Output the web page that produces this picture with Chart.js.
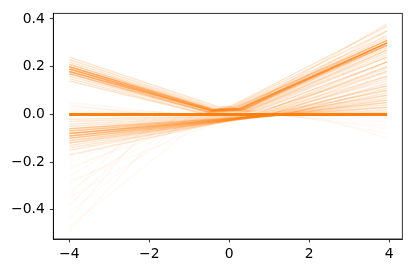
<!DOCTYPE html>
<html>
<head>
<meta charset="utf-8">
<script src="https://cdn.jsdelivr.net/npm/chart.js@4/dist/chart.umd.min.js"></script>
<style>
  html, body { margin: 0; padding: 0; background: #fff; }
  #wrap { width: 411px; height: 274px; }
</style>
</head>
<body>
<div id="wrap"><canvas id="chart" width="411" height="274"></canvas></div>
<script>
// ─── DATA ────────────────────────────────────────────────
const xStart = -4;
const xEnd = 3.95;
const xTicks = [-4, -2, 0, 2, 4];
const xTickLabels = ['−4', '−2', '0', '2', '4'];
const yTicks = [-0.4, -0.2, 0, 0.2, 0.4];
const yTickLabels = ['−0.4', '−0.2', '0.0', '0.2', '0.4'];

// V shaped: [y at -4, bottom x, bottom y, rise x, rise y, y at end]
const vLines = [
  [0.19, -0.45, 0.015, 0.25, 0.025, 0.30],
  [0.18, -0.50, 0.010, 0.30, 0.020, 0.29],
  [0.20, -0.40, 0.020, 0.20, 0.030, 0.31],
  [0.17, -0.55, 0.010, 0.35, 0.020, 0.28],
  [0.21, -0.35, 0.020, 0.15, 0.030, 0.31],
  [0.19, -0.45, 0.015, 0.40, 0.025, 0.30],
  [0.18, -0.40, 0.015, 0.30, 0.020, 0.30],
  [0.20, -0.50, 0.020, 0.25, 0.025, 0.29],
  [0.16, -0.60, 0.010, 0.45, 0.020, 0.27],
  [0.22, -0.30, 0.020, 0.10, 0.030, 0.33],
  [0.19, -0.45, 0.015, 0.30, 0.025, 0.30],
  [0.17, -0.50, 0.010, 0.50, 0.020, 0.26],
  [0.20, -0.40, 0.020, 0.20, 0.025, 0.31],
  [0.18, -0.45, 0.015, 0.35, 0.020, 0.30],
  [0.15, -0.65, 0.005, 0.60, 0.015, 0.24],
  [0.23, -0.30, 0.025, 0.10, 0.035, 0.35],
  [0.19, -0.40, 0.015, 0.25, 0.025, 0.30],
  [0.21, -0.40, 0.020, 0.20, 0.030, 0.32],
  [0.18, -0.50, 0.015, 0.40, 0.020, 0.29],
  [0.17, -0.55, 0.010, 0.30, 0.020, 0.30],
  [0.20, -0.45, 0.020, 0.30, 0.025, 0.30],
  [0.24, -0.25, 0.030, 0.05, 0.035, 0.37],
  [0.14, -0.70, 0.005, 0.70, 0.015, 0.22],
  [0.19, -0.45, 0.015, 0.25, 0.020, 0.31],
  [0.18, -0.45, 0.015, 0.30, 0.025, 0.29],
  [0.20, -0.40, 0.020, 0.25, 0.025, 0.30]
];

// lower band: [y at -4, x where it reaches 0, y at end]
const lowLines = [
  [-0.08, 1.3, 0], [-0.09, 1.2, 0.05], [-0.07, 1.4, 0], [-0.10, 1.1, 0.08],
  [-0.06, 1.5, 0], [-0.11, 1.0, 0.12], [-0.08, 1.3, 0.03], [-0.09, 1.4, 0],
  [-0.05, 1.6, 0], [-0.12, 1.0, 0.15], [-0.07, 1.2, 0.06], [-0.10, 1.3, 0],
  [-0.13, 0.9, 0.18], [-0.08, 1.5, 0.02], [-0.06, 1.3, 0.04], [-0.09, 1.1, 0.10],
  [-0.15, 0.8, 0.20], [-0.04, 1.7, 0], [-0.11, 1.2, 0.07], [-0.07, 1.4, 0.01],
  [-0.17, 0.7, 0.22], [-0.03, 1.8, 0], [-0.09, 1.3, 0.09], [-0.08, 1.2, 0.13],
  [-0.10, 1.4, 0.03], [-0.14, 1.0, 0.16], [-0.02, 1.9, 0], [-0.06, 1.4, 0.11],
  [-0.12, 1.1, 0], [-0.08, 1.3, 0.05]
];

// flat then rising: [kink x, y at end]
const fanLines = [
  [0.3, 0.25], [0.6, 0.20], [0.8, 0.14], [0.2, 0.35], [1.0, 0.12],
  [0.5, 0.18], [0.4, 0.22], [1.2, 0.08], [0.7, 0.16], [0.1, 0.38],
  [0.9, 0.10], [0.3, 0.27], [1.5, 0.06], [0.6, 0.19], [0.2, 0.24]
];

// faint steep ones from below: [y at -4, x where it reaches 0]
const steepLines = [
  [-0.20, -1.0], [-0.23, -0.8], [-0.26, -1.4], [-0.29, -0.6], [-0.32, -1.2],
  [-0.35, -0.4], [-0.38, -1.6], [-0.41, -0.9], [-0.44, -1.8], [-0.47, -0.5],
  [-0.49, -1.3], [-0.22, -0.2], [-0.28, 0.2], [-0.34, -2.0]
];

// faint ones just above zero on the left: [y at -4, x where it reaches 0]
const highLeftLines = [[0.02, -1.5], [0.04, -2.0], [0.03, -0.8], [0.05, -1.2], [0.01, -0.5]];

// faint ones dropping on the right: [kink x, y at end]
const dropLines = [[1.0, -0.05], [1.5, -0.08], [0.8, -0.03], [2.0, -0.10], [1.2, -0.06]];

// ─── BUILD DATASETS ──────────────────────────────────────
const C1 = 'rgba(255,127,14,';
function ds(points, alpha, width) {
  return {
    data: points.map(p => ({ x: p[0], y: p[1] })),
    borderColor: C1 + alpha + ')',
    borderWidth: width || 1.5,
    pointRadius: 0,
    tension: 0,
    fill: false
  };
}

const datasets = [];
datasets.push(ds([[xStart, 0], [xEnd, 0]], 1, 3));
vLines.forEach(l => datasets.push(ds([[xStart, l[0]], [l[1], l[2]], [l[3], l[4]], [xEnd, l[5]]], 0.2)));
lowLines.forEach(l => datasets.push(ds([[xStart, l[0]], [l[1], 0], [xEnd, l[2]]], 0.18)));
fanLines.forEach(l => datasets.push(ds([[xStart, 0], [l[0], 0], [xEnd, l[1]]], 0.13)));
steepLines.forEach(l => datasets.push(ds([[xStart, l[0]], [l[1], 0], [xEnd, 0]], 0.04)));
highLeftLines.forEach(l => datasets.push(ds([[xStart, l[0]], [l[1], 0], [xEnd, 0]], 0.06)));
dropLines.forEach(l => datasets.push(ds([[xStart, 0], [l[0], 0], [xEnd, l[1]]], 0.04)));

// ─── FRAME ───────────────────────────────────────────────
const frame = {
  id: 'frame',
  afterDraw(chart) {
    const { ctx, chartArea: a } = chart;
    ctx.save();
    ctx.strokeStyle = '#000';
    ctx.lineWidth = 0.8;
    ctx.strokeRect(a.left, a.top, a.right - a.left, a.bottom - a.top);
    ctx.restore();
  }
};

const tickFont = { family: 'DejaVu Sans', size: 13.9 };

new Chart(document.getElementById('chart'), {
  type: 'line',
  data: { datasets },
  options: {
    responsive: false,
    animation: false,
    events: [],
    layout: { padding: { left: 0, top: 9, right: 8.7, bottom: 0 } },
    plugins: { legend: { display: false }, tooltip: { enabled: false } },
    scales: {
      x: {
        type: 'linear',
        min: -4.4,
        max: 4.33,
        afterBuildTicks: s => { s.ticks = xTicks.map(v => ({ value: v })); },
        afterFit: s => { s.height = 35; },
        grid: { display: true, drawOnChartArea: false, drawTicks: true, tickLength: 3.5, color: '#000', lineWidth: 0.8 },
        border: { display: true, color: '#000', width: 0.8 },
        ticks: { autoSkip: false, maxRotation: 0, padding: 4, color: '#000', font: tickFont,
                 callback: (v, i) => xTickLabels[i] }
      },
      y: {
        type: 'linear',
        min: -0.522,
        max: 0.4235,
        afterBuildTicks: s => { s.ticks = yTicks.map(v => ({ value: v })); },
        afterFit: s => { s.width = 53.3; },
        grid: { display: true, drawOnChartArea: false, drawTicks: true, tickLength: 3.5, color: '#000', lineWidth: 0.8 },
        border: { display: true, color: '#000', width: 0.8 },
        ticks: { autoSkip: false, padding: 5, color: '#000', font: tickFont,
                 callback: (v, i) => yTickLabels[i] }
      }
    }
  },
  plugins: [frame]
});
</script>
</body>
</html>
